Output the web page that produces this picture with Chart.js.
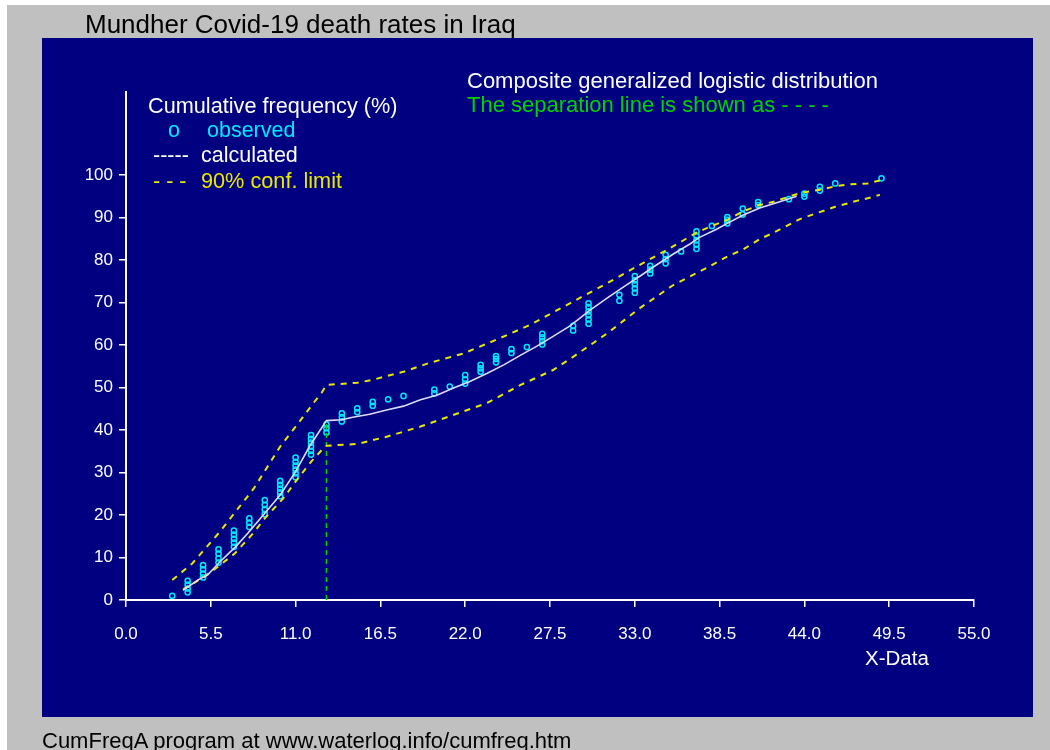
<!DOCTYPE html>
<html>
<head>
<meta charset="utf-8">
<title>Mundher Covid-19 death rates in Iraq</title>
<script src="https://cdn.jsdelivr.net/npm/chart.js@4/dist/chart.umd.min.js"></script>
<style>
  html, body { margin: 0; padding: 0; background: #c0c0c0; overflow: hidden; }
  #wrap { position: relative; width: 1050px; height: 750px; }
  #chart { position: absolute; left: 0; top: 0; }
  .txt { position: absolute; white-space: nowrap; font-family: "Liberation Sans", Arial, sans-serif;
         transform-origin: 0 0; }
</style>
</head>
<body>
<div id="wrap">
  <canvas id="chart" width="1050" height="750"></canvas>
</div>
<script>
// Observed cumulative frequencies (%), grouped by X value (ties stack vertically)
const observedX = [3, 4, 5, 6, 7, 8, 9, 10, 11, 12, 13, 14, 15, 16, 17, 18, 20, 21, 22, 23,
                   24, 25, 26, 27, 29, 30, 32, 33, 34, 35, 36, 37, 38, 39, 40, 41, 43, 44, 45, 46, 49];
const observedY = [
  [1.0],
  [1.8, 2.7, 3.6, 4.5],
  [5.3, 6.2, 7.2, 8.2],
  [8.8, 9.8, 10.9, 11.9],
  [12.5, 13.5, 14.4, 15.4, 16.3],
  [17.2, 18.2, 19.2],
  [20.2, 21.3, 22.4, 23.5],
  [24.4, 25.3, 26.2, 27.1, 28.0],
  [28.9, 29.8, 30.7, 31.6, 32.5, 33.5],
  [34.2, 35.1, 36.1, 37.0, 37.9, 38.8],
  [39.4, 40.4, 41.3],
  [42.0, 43.0, 43.9],
  [44.2, 45.1],
  [45.7, 46.6],
  [47.2],
  [48.0],
  [48.6, 49.5],
  [50.2],
  [50.9, 51.9, 52.9],
  [53.7, 54.5, 55.3],
  [55.9, 56.7, 57.4],
  [58.1, 59.0],
  [59.5],
  [60.1, 60.9, 61.8, 62.6],
  [63.4, 64.5],
  [65.0, 66.0, 67.0, 67.9, 68.9, 69.8],
  [70.4, 71.8],
  [72.3, 73.3, 74.3, 75.2, 76.2],
  [76.8, 77.7, 78.6],
  [79.2, 80.2, 81.2],
  [82.0],
  [82.6, 83.6, 84.6, 85.7, 86.7],
  [88.0],
  [88.6, 89.4, 90.1],
  [90.7, 92.1],
  [92.9, 93.6],
  [94.3],
  [94.9, 95.6],
  [96.3, 97.2],
  [98.0],
  [99.2]
];

// Calculated composite generalized logistic curve
const calcX = [3.7, 4.7, 5.3, 6.1, 7.1, 7.9, 9.0, 10.0, 11.0, 11.9, 13.0, 14.0, 14.7, 15.8, 16.9, 18.0,
               19.1, 20.2, 21.2, 22.3, 23.4, 24.5, 25.6, 26.6, 27.7, 28.8, 30.1, 31.2, 32.3, 33.3, 34.4,
               35.5, 36.6, 37.2, 38.3, 39.0, 40.0, 41.1, 42.4, 43.5];
const calcY = [2.3, 4.8, 5.9, 9.0, 12.5, 15.7, 20.4, 24.7, 30.2, 36.1, 42.2, 42.4, 43.0, 43.7, 44.7, 45.6,
               47.1, 48.2, 49.8, 51.4, 53.3, 55.3, 57.6, 59.6, 62.0, 64.5, 68.2, 71.0, 73.7, 76.1, 78.8,
               81.4, 83.8, 85.3, 87.2, 88.6, 90.5, 92.2, 93.7, 95.0];

// Upper 90% confidence limit
const upperX = [3.0, 4.3, 6.1, 8.3, 10.0, 11.2, 12.15, 12.7, 13.0, 15.0, 16.0, 18.0, 19.7, 21.9, 24.0, 26.2,
                29.0, 31.2, 33.3, 35.1, 36.0, 37.0, 38.0, 39.0, 40.0, 41.1, 42.0, 43.7, 45.0, 46.1, 47.0,
                48.1, 48.9];
const upperY = [4.7, 8.6, 16.1, 26.3, 36.1, 41.7, 46.3, 48.8, 50.6, 51.1, 51.8, 53.7, 55.8, 58.0, 61.2, 64.7,
                70.2, 74.5, 78.8, 82.4, 84.3, 86.4, 88.0, 89.4, 91.4, 92.9, 93.7, 95.7, 96.5, 97.4, 97.8,
                98.0, 98.7];

// Lower 90% confidence limit
const lowerX = [3.7, 5.1, 6.1, 7.07, 8.15, 9.1, 10.2, 11.07, 12.0, 12.9, 13.0, 15.0, 16.9, 19.1, 21.2, 23.4,
                25.6, 27.7, 29.0, 31.2, 33.3, 35.5, 37.8, 39.0, 40.0, 41.1, 42.0, 43.7, 44.8, 46.0, 46.8,
                47.5, 48.1, 48.9];
const lowerY = [2.5, 5.5, 8.2, 11.0, 15.3, 19.6, 23.9, 28.2, 32.5, 36.1, 36.3, 36.7, 38.4, 40.8, 43.5, 46.3,
                50.6, 54.1, 57.2, 62.7, 68.6, 74.1, 78.4, 80.8, 82.4, 84.9, 86.4, 89.6, 91.0, 92.5, 93.3,
                94.0, 94.5, 95.3];

// Separation line between the two logistic components
const separationX = [13.0, 13.0];
const separationY = [0, 42.2];

// Axis tick labels
const xTicks = [0, 5.5, 11, 16.5, 22, 27.5, 33, 38.5, 44, 49.5, 55];
const yTicks = [0, 10, 20, 30, 40, 50, 60, 70, 80, 90, 100];

const FONT = '"Liberation Sans", Arial, sans-serif';

const toPoints = (xs, ys) => xs.map((x, i) => ({ x: x, y: ys[i] }));
const observedPoints = observedX.flatMap((x, i) => observedY[i].map(y => ({ x: x, y: y })));

// Grey window, navy plotting panel
const panelPlugin = {
  id: 'panel',
  beforeDraw(chart) {
    const ctx = chart.ctx;
    ctx.save();
    ctx.fillStyle = '#c0c0c0';
    ctx.fillRect(0, 0, chart.width, chart.height);
    ctx.fillStyle = '#ffffff';
    ctx.fillRect(0, 0, 7, chart.height);
    ctx.fillRect(0, 0, chart.width, 5);
    ctx.fillStyle = '#000080';
    ctx.fillRect(42, 38, 991, 679);
    ctx.restore();
  }
};

const lineDataset = (label, xs, ys, color, width, dash) => ({
  label: label,
  data: toPoints(xs, ys),
  showLine: true,
  borderColor: color,
  borderWidth: width,
  borderDash: dash,
  pointRadius: 0,
  fill: false,
  tension: 0
});

const axisCommon = {
  grid: { display: true, drawOnChartArea: false, drawTicks: true, tickLength: 7, color: '#ffffff', lineWidth: 1.5 },
  border: { display: true, color: '#ffffff', width: 2 }
};

new Chart(document.getElementById('chart'), {
  type: 'scatter',
  data: {
    datasets: [
      lineDataset('calculated', calcX, calcY, '#dcdcff', 1.6, []),
      lineDataset('90% conf. limit (upper)', upperX, upperY, '#e8e800', 2, [6, 6]),
      lineDataset('90% conf. limit (lower)', lowerX, lowerY, '#e8e800', 2, [6, 6]),
      lineDataset('separation', separationX, separationY, '#00d200', 1.5, [5, 4]),
      {
        label: 'observed',
        data: observedPoints,
        showLine: false,
        pointStyle: 'circle',
        pointRadius: 2.6,
        pointBorderWidth: 1.5,
        pointBorderColor: '#00e8ff',
        pointBackgroundColor: 'rgba(0,0,0,0)'
      }
    ]
  },
  options: {
    responsive: false,
    animation: false,
    devicePixelRatio: 1,
    events: [],
    layout: { padding: { left: 66, right: 76, top: 92, bottom: 90 } },
    plugins: { legend: { display: false }, tooltip: { enabled: false }, title: { display: false } },
    scales: {
      x: Object.assign({
        type: 'linear', min: 0, max: 55,
        afterBuildTicks: s => { s.ticks = xTicks.map(v => ({ value: v })); },
        afterFit: s => { s.height = 60; },
        ticks: { color: '#ffffff', font: { family: FONT, size: 17 }, padding: 17, maxRotation: 0,
                 autoSkip: false, callback: v => Number(v).toFixed(1) }
      }, axisCommon),
      y: Object.assign({
        type: 'linear', min: 0, max: 119.5,
        afterBuildTicks: s => { s.ticks = yTicks.map(v => ({ value: v })); },
        afterFit: s => { s.width = 60; },
        ticks: { color: '#ffffff', font: { family: FONT, size: 17 }, padding: 6, autoSkip: false,
                 callback: v => String(v) }
      }, axisCommon)
    }
  },
  plugins: [panelPlugin]
});

// Text labels, placed by their baseline
const wrap = document.getElementById('wrap');
function addText(text, x, baseline, size, color, sx) {
  const d = document.createElement('div');
  d.className = 'txt';
  d.textContent = text;
  d.style.left = x + 'px';
  d.style.top = (baseline - 0.8465 * size) + 'px';
  d.style.fontSize = size + 'px';
  d.style.lineHeight = size + 'px';
  d.style.color = color;
  if (sx) d.style.transform = 'scaleX(' + sx + ')';
  wrap.appendChild(d);
}

addText('Mundher Covid-19 death rates in Iraq', 85, 33, 26, '#000000');
addText('Composite generalized logistic distribution', 467, 88.5, 22, '#ffffff');
addText('The separation line is shown as - - - -', 467, 113, 22, '#00d200');
addText('Cumulative frequency (%)', 148, 113, 21.7, '#ffffff');
addText('o', 168, 138.3, 21.5, '#00e8ff');
addText('observed', 207, 138.3, 21.5, '#00e8ff');
addText('-----', 153, 163.5, 21.5, '#ffffff');
addText('calculated', 201, 163.5, 21.5, '#ffffff');
addText('- - -', 153, 188.8, 21.5, '#e8e800');
addText('90% conf. limit', 201, 188.8, 21.7, '#e8e800');
addText('X-Data', 865, 665, 20.5, '#ffffff');
addText('CumFreqA program at www.waterlog.info/cumfreq.htm', 42, 749, 22, '#000000');
</script>
</body>
</html>
